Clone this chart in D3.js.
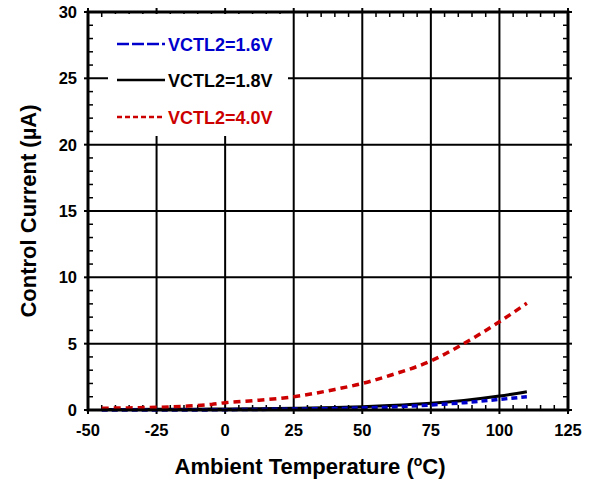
<!DOCTYPE html>
<html>
<head>
<meta charset="utf-8">
<script src="https://cdn.jsdelivr.net/npm/d3@7"></script>
<style>
  body { margin: 0; background: #fff; }
  text { font-family: "Liberation Sans", Arial, sans-serif; font-weight: bold; }
</style>
</head>
<body>
<div class="forSvg"></div>
<script>
// -DATA-
const temps = [-45, -35, -25, -15, -5, 0, 10, 25, 40, 50, 60, 75, 87, 100, 110];
const vctl16 = [0.0, 0.0, 0.0, 0.0, 0.01, 0.02, 0.04, 0.07, 0.11, 0.15, 0.22, 0.38, 0.55, 0.8, 1.0];
const vctl18 = [0.03, 0.04, 0.05, 0.06, 0.07, 0.08, 0.1, 0.13, 0.19, 0.25, 0.33, 0.5, 0.72, 1.05, 1.38];
const vctl40 = [0.13, 0.16, 0.2, 0.28, 0.42, 0.55, 0.7, 1.0, 1.55, 2.0, 2.6, 3.7, 5.0, 6.65, 8.05];

const seriesNames = ["VCTL2=1.6V", "VCTL2=1.8V", "VCTL2=4.0V"];
const seriesColors = ["#0000cc", "#000000", "#cc0000"];
const seriesDash = ["6,4", null, "7,5"];
const legendDash = ["12,3", null, "5,3"];

const xTicks = [-50, -25, 0, 25, 50, 75, 100, 125];
const yTicks = [0, 5, 10, 15, 20, 25, 30];

// -SIZES-
const W = 595, H = 481;
const plot = { left: 88, right: 568, top: 12, bottom: 410 };

const svg = d3.select(".forSvg")
  .append("svg")
  .attr("width", W)
  .attr("height", H);

const x = d3.scaleLinear().domain([-50, 125]).range([plot.left, plot.right]);
const y = d3.scaleLinear().domain([0, 30]).range([plot.bottom, plot.top]);

// grid lines
svg.append("g").selectAll("line")
  .data(xTicks.slice(1, -1))
  .enter().append("line")
  .attr("x1", d => x(d)).attr("x2", d => x(d))
  .attr("y1", plot.top).attr("y2", plot.bottom)
  .attr("stroke", "#000").attr("stroke-width", 2);

svg.append("g").selectAll("line")
  .data(yTicks.slice(1, -1))
  .enter().append("line")
  .attr("x1", plot.left).attr("x2", plot.right)
  .attr("y1", d => y(d)).attr("y2", d => y(d))
  .attr("stroke", "#000").attr("stroke-width", 2);

// minor ticks
const xMinor = d3.range(-50, 126, 5).filter(v => v % 25 !== 0);
const yMinor = d3.range(0, 31, 1).filter(v => v % 5 !== 0);

const minor = svg.append("g").attr("stroke", "#000").attr("stroke-width", 1.5);
xMinor.forEach(v => {
  minor.append("line").attr("x1", x(v)).attr("x2", x(v)).attr("y1", plot.bottom).attr("y2", plot.bottom - 5);
  minor.append("line").attr("x1", x(v)).attr("x2", x(v)).attr("y1", plot.top).attr("y2", plot.top + 5);
});
yMinor.forEach(v => {
  minor.append("line").attr("x1", plot.left).attr("x2", plot.left + 5).attr("y1", y(v)).attr("y2", y(v));
  minor.append("line").attr("x1", plot.right).attr("x2", plot.right - 5).attr("y1", y(v)).attr("y2", y(v));
});

// major outward ticks
const major = svg.append("g").attr("stroke", "#000").attr("stroke-width", 2);
xTicks.forEach(v => {
  major.append("line").attr("x1", x(v)).attr("x2", x(v)).attr("y1", plot.bottom).attr("y2", plot.bottom + 4);
  major.append("line").attr("x1", x(v)).attr("x2", x(v)).attr("y1", plot.top).attr("y2", plot.top - 4);
});
yTicks.forEach(v => {
  major.append("line").attr("x1", plot.left - 4).attr("x2", plot.left).attr("y1", y(v)).attr("y2", y(v));
  major.append("line").attr("x1", plot.right).attr("x2", plot.right + 4).attr("y1", y(v)).attr("y2", y(v));
});

// tick labels
svg.append("g").selectAll("text")
  .data(xTicks)
  .enter().append("text")
  .attr("x", d => x(d))
  .attr("y", 436)
  .attr("text-anchor", "middle")
  .attr("font-size", 16.5)
  .text(d => d);

svg.append("g").selectAll("text")
  .data(yTicks)
  .enter().append("text")
  .attr("x", 77)
  .attr("y", d => y(d) + 6)
  .attr("text-anchor", "end")
  .attr("font-size", 16.5)
  .text(d => d);

// legend background
const legend = svg.append("g").attr("id", "legend");
legend.append("rect")
  .attr("x", 108).attr("y", plot.top + 2)
  .attr("width", 180).attr("height", 122)
  .attr("fill", "#fff");

// series lines
const line = d3.line()
  .x((d, i) => x(temps[i]))
  .y(d => y(d))
  .curve(d3.curveMonotoneX);

[vctl18, vctl16, vctl40].forEach((vals, k) => {
  const idx = [1, 0, 2][k];
  svg.append("path")
    .attr("d", line(vals))
    .attr("fill", "none")
    .attr("stroke", seriesColors[idx])
    .attr("stroke-width", idx === 1 ? 3 : 3.5)
    .attr("stroke-dasharray", seriesDash[idx]);
});

// frame
svg.append("rect")
  .attr("x", plot.left).attr("y", plot.top)
  .attr("width", plot.right - plot.left)
  .attr("height", plot.bottom - plot.top)
  .attr("fill", "none")
  .attr("stroke", "#000")
  .attr("stroke-width", 3);

// legend entries
const legendY = [44, 80, 117];
seriesNames.forEach((name, i) => {
  legend.append("line")
    .attr("x1", 117).attr("x2", 165)
    .attr("y1", legendY[i]).attr("y2", legendY[i])
    .attr("stroke", seriesColors[i])
    .attr("stroke-width", 2.5)
    .attr("stroke-dasharray", legendDash[i]);
  legend.append("text")
    .attr("x", 168)
    .attr("y", legendY[i] + 7)
    .attr("font-size", 18)
    .attr("fill", seriesColors[i])
    .text(name);
});

// axis titles
svg.append("text")
  .attr("x", 310)
  .attr("y", 474)
  .attr("text-anchor", "middle")
  .attr("font-size", 22)
  .html('Ambient Temperature (<tspan baseline-shift="super" font-size="14">o</tspan>C)');

svg.append("text")
  .attr("transform", "translate(36," + 211 + ") rotate(-90)")
  .attr("text-anchor", "middle")
  .attr("font-size", 22)
  .text("Control Current (\u00b5A)");
</script>
</body>
</html>
